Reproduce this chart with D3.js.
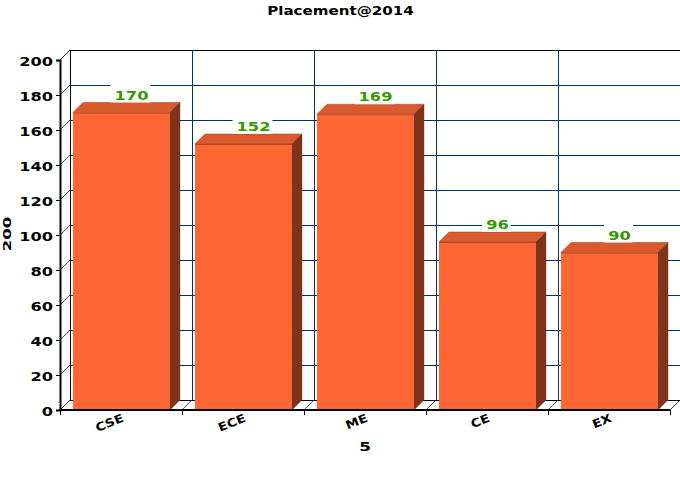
<!DOCTYPE html>
<html><head><meta charset="utf-8">
<script src="https://cdnjs.cloudflare.com/ajax/libs/d3/7.8.5/d3.min.js"></script>
<style>html,body{margin:0;padding:0;background:#fff}svg{display:block}text{font-family:"DejaVu Sans",sans-serif;font-weight:bold}</style>
</head><body><svg id="c" width="680" height="500"></svg>
<script>
const categories = ["CSE","ECE","ME","CE","EX"];
const values = [170,152,169,96,90];
const yTicks = [0,20,40,60,80,100,120,140,160,180,200];
const titleText = "Placement@2014";
const yTitle = "200";
const xTitle = "5";

(function(){
const depth = 10, left = 60, right = 670, top = 60, bottom = 410;
const navy = "#003366";
const svg = d3.select("#c");
const x = d3.scaleBand().domain(categories).range([left+.5, right+.5]).paddingInner(25/122).paddingOuter(12.5/122);
const y = d3.scaleLinear().domain([0,200]).range([bottom, top]);
const step = x.step();
const ticksX = d3.range(categories.length + 1).map(i => left + i*step);

function wide(sel, sx){
  return sel.attr("transform", function(){
    const a = +this.getAttribute("data-x"), b = +this.getAttribute("data-y"), r = this.getAttribute("data-r")||0;
    return `translate(${a},${b}) rotate(${r}) scale(${sx},1)`;
  });
}
const g = svg.append("g").attr("fill","none").attr("shape-rendering","crispEdges");
yTicks.forEach(t=>{
  const yy = y(t)-depth+.5;
  g.append("line").attr("x1",left+depth).attr("x2",680).attr("y1",yy).attr("y2",yy)
    .attr("stroke", t===200 ? "#000" : t===0 ? "#000" : navy);
});
ticksX.forEach((tx,i)=>{
  if(i===ticksX.length-1) return;
  g.append("line").attr("x1",tx+depth+.5).attr("x2",tx+depth+.5).attr("y1",top-depth).attr("y2",bottom-depth)
    .attr("stroke", i===0 ? "#000" : navy);
});
const d = svg.append("g").attr("fill","none");
yTicks.forEach(t=>{
  d.append("line").attr("x1",left).attr("x2",left+depth).attr("y1",y(t)).attr("y2",y(t)-depth)
    .attr("stroke", (t===200||t===0) ? "#000" : navy).attr("stroke-width",.8);
});
ticksX.forEach((tx,i)=>{
  if(i===0) return;
  d.append("line").attr("x1",tx).attr("x2",tx+depth).attr("y1",bottom).attr("y2",bottom-depth)
    .attr("stroke", i===ticksX.length-1 ? "#000" : navy).attr("stroke-width",.8);
});
const bars = svg.append("g").selectAll("g").data(categories.map((c,i)=>({c,v:values[i]}))).join("g");
bars.append("path").attr("fill","#d95a2e").attr("stroke","#a8482a").attr("stroke-width",.6)
  .attr("d",r=>{const a=x(r.c),b=a+x.bandwidth(),t=y(r.v);return `M${a},${t}L${a+depth},${t-depth}L${b+depth},${t-depth}L${b},${t}Z`;});
bars.append("path").attr("fill","#7f3319").attr("stroke","#7f3319").attr("stroke-width",.4)
  .attr("d",r=>{const b=x(r.c)+x.bandwidth(),t=y(r.v);return `M${b},${t}L${b+depth},${t-depth}L${b+depth},${bottom-depth}L${b},${bottom}Z`;});
bars.append("rect").attr("fill","#ff6633").attr("x",r=>x(r.c)).attr("y",r=>y(r.v)).attr("width",x.bandwidth()).attr("height",r=>bottom-y(r.v));
bars.append("line").attr("stroke","#a8482a").attr("x1",r=>x(r.c)).attr("x2",r=>x(r.c)+x.bandwidth()).attr("y1",r=>y(r.v)+.5).attr("y2",r=>y(r.v)+.5);
const boxW = r => String(r.v).length * 11 + 7;
bars.append("rect").attr("fill","#fff").attr("x",r=>x(r.c)+x.bandwidth()/2+depth-1-boxW(r)/2).attr("width",boxW)
  .attr("y",r=>y(r.v)-depth-18).attr("height",18);
bars.append("text").text(r=>r.v).attr("fill","#339900").attr("font-size",12.5).attr("text-anchor","middle")
  .attr("data-x",r=>x(r.c)+x.bandwidth()/2+depth).attr("data-y",r=>y(r.v)-depth-3).call(wide,1.3);
const ya = svg.append("g").attr("transform",`translate(${left},0)`)
  .call(d3.axisLeft(y).tickValues(yTicks).tickSize(4).tickPadding(0).tickFormat(d=>""));
ya.selectAll(".domain,line").attr("stroke","#000");
ya.select(".domain").attr("stroke-width",2);
const xa = svg.append("g");
xa.append("line").attr("x1",left-1).attr("x2",right).attr("y1",bottom).attr("y2",bottom).attr("stroke","#000").attr("stroke-width",2);
ticksX.forEach(tx=>xa.append("line").attr("x1",tx+.5).attr("x2",tx+.5).attr("y1",bottom).attr("y2",bottom+5).attr("stroke","#000"));
svg.append("g").selectAll("text").data(yTicks).join("text").text(d=>d).attr("font-size",12).attr("text-anchor","end").attr("fill","#000")
  .attr("data-x",53).attr("data-y",d=>y(d)+5.5).call(wide,1.35);
svg.append("g").selectAll("text").data(categories).join("text").text(d=>d).attr("font-size",11.5).attr("text-anchor","end").attr("fill","#000")
  .attr("data-x",c=>x(c)+x.bandwidth()/2+3).attr("data-y",421).attr("data-r",-22).call(wide,1.18);
svg.append("text").text(titleText).attr("font-size",12).attr("text-anchor","middle").attr("data-x",340.5).attr("data-y",15).attr("fill","#000").call(wide,1.26);
svg.append("text").text(xTitle).attr("font-size",12).attr("text-anchor","middle").attr("data-x",365).attr("data-y",451).attr("fill","#000").call(wide,1.4);
svg.append("text").text(yTitle).attr("font-size",11).attr("text-anchor","middle").attr("fill","#000")
  .attr("transform","translate(11,234) rotate(-90) scale(1.5,1)");
})();
</script></body></html>
